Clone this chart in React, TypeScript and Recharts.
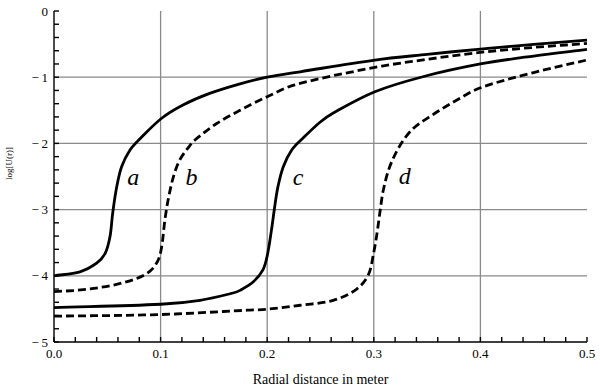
import { LineChart, Line, XAxis, YAxis, ReferenceLine, ReferenceDot } from 'recharts';

document.body.style.margin = '0';

const SERIF = "'Liberation Serif', 'Times New Roman', 'DejaVu Serif', serif";

// curve points: [r, log U(r)]
const curveA: [number, number][] = [
  [0, -4.0], [0.0244, -3.94], [0.04, -3.81], [0.048, -3.66], [0.0525, -3.41],
  [0.055, -3.06], [0.0588, -2.66], [0.0635, -2.35], [0.0713, -2.1], [0.0807, -1.93],
  [0.101, -1.62], [0.121, -1.42], [0.146, -1.245], [0.1745, -1.1], [0.2, -1.0],
  [0.231, -0.918], [0.301, -0.741], [0.35, -0.655], [0.4, -0.575], [0.45, -0.505],
  [0.5, -0.44],
];

const curveB: [number, number][] = [
  [0, -4.24], [0.0275, -4.21], [0.0557, -4.14], [0.0776, -4.04], [0.09, -3.93],
  [0.0975, -3.77], [0.101, -3.56], [0.104, -3.16], [0.107, -2.86], [0.112, -2.505],
  [0.118, -2.25], [0.1276, -2.03], [0.134, -1.925], [0.1526, -1.7], [0.1745, -1.5],
  [0.2, -1.295], [0.226, -1.115], [0.301, -0.852], [0.35, -0.73], [0.4, -0.625],
  [0.45, -0.55], [0.5, -0.49],
];

const curveC: [number, number][] = [
  [0, -4.48], [0.1, -4.43], [0.137, -4.37], [0.168, -4.26], [0.1745, -4.22],
  [0.187, -4.09], [0.196, -3.91], [0.2, -3.7], [0.204, -3.31], [0.207, -2.96],
  [0.21, -2.66], [0.215, -2.355], [0.223, -2.1], [0.233, -1.93], [0.2495, -1.68],
  [0.262, -1.54], [0.301, -1.22], [0.346, -0.993], [0.4, -0.8], [0.45, -0.68],
  [0.5, -0.58],
];

const curveD: [number, number][] = [
  [0, -4.61], [0.1, -4.585], [0.181, -4.52], [0.2, -4.505], [0.231, -4.445],
  [0.262, -4.37], [0.284, -4.2], [0.295, -3.98], [0.2998, -3.66], [0.303, -3.36],
  [0.306, -3.01], [0.309, -2.7], [0.315, -2.35], [0.325, -2.02], [0.337, -1.775],
  [0.356, -1.56], [0.378, -1.345], [0.4, -1.16], [0.45, -0.93], [0.5, -0.74],
];

const curveLabels = [
  { text: 'a', x: 0.0744, y: -2.5 },
  { text: 'b', x: 0.129, y: -2.5 },
  { text: 'c', x: 0.229, y: -2.5 },
  { text: 'd', x: 0.329, y: -2.48 },
];

const xTicks = [
  0, 0.02, 0.04, 0.06, 0.08, 0.1, 0.12, 0.14, 0.16, 0.18, 0.2, 0.22, 0.24,
  0.26, 0.28, 0.3, 0.32, 0.34, 0.36, 0.38, 0.4, 0.42, 0.44, 0.46, 0.48, 0.5,
];
const yTicks = [
  -5, -4.8, -4.6, -4.4, -4.2, -4, -3.8, -3.6, -3.4, -3.2, -3, -2.8, -2.6,
  -2.4, -2.2, -2, -1.8, -1.6, -1.4, -1.2, -1, -0.8, -0.6, -0.4, -0.2, 0,
];
const xGrid = [0.1, 0.2, 0.3, 0.4];
const yGrid = [-1, -2, -3, -4];

const toRows = (pts: [number, number][]) => pts.map(([x, y]) => ({ x, y }));

// smooth curve through the scaled points; tangents follow the neighbours so
// the steep parts bend as cleanly as the flat ones
// eslint-disable-next-line @typescript-eslint/no-explicit-any
const smoothCurve = (context: any) => {
  let pts: [number, number][] = [];
  const unit = (a: [number, number], b: [number, number]) => {
    const dx = b[0] - a[0];
    const dy = b[1] - a[1];
    const len = Math.hypot(dx, dy) || 1;
    return [dx / len, dy / len];
  };
  return {
    areaStart() {},
    areaEnd() {},
    lineStart() {
      pts = [];
    },
    point(x: number, y: number) {
      pts.push([+x, +y]);
    },
    lineEnd() {
      if (!pts.length) return;
      context.moveTo(pts[0][0], pts[0][1]);
      for (let i = 0; i < pts.length - 1; i++) {
        const p0 = pts[Math.max(i - 1, 0)];
        const p1 = pts[i];
        const p2 = pts[i + 1];
        const p3 = pts[Math.min(i + 2, pts.length - 1)];
        const seg = Math.hypot(p2[0] - p1[0], p2[1] - p1[1]) / 3;
        const t1 = unit(p0, p2);
        const t2 = unit(p1, p3);
        context.bezierCurveTo(
          p1[0] + t1[0] * seg,
          p1[1] + t1[1] * seg,
          p2[0] - t2[0] * seg,
          p2[1] - t2[1] * seg,
          p2[0],
          p2[1],
        );
      }
    },
  };
};

// eslint-disable-next-line @typescript-eslint/no-explicit-any
const XTick = (p: any) => {
  const v = p.payload.value as number;
  if (Math.abs(v * 10 - Math.round(v * 10)) > 1e-6) return <g />;
  return (
    <text x={p.x} y={p.y} dy="0.71em" textAnchor="middle" style={{ fontFamily: SERIF, fontSize: 13 }} fill="#000">
      {v.toFixed(1)}
    </text>
  );
};

// eslint-disable-next-line @typescript-eslint/no-explicit-any
const YTick = (p: any) => {
  const v = p.payload.value as number;
  if (Math.abs(v - Math.round(v)) > 1e-6) return <g />;
  const label = v === 0 ? '0' : `\u2212\u2009${Math.abs(v)}`;
  return (
    <text x={p.x} y={p.y} dy="0.36em" textAnchor="end" style={{ fontFamily: SERIF, fontSize: 13 }} fill="#000">
      {label}
    </text>
  );
};

const Empty = () => <g />;

const series = [
  { key: 'a', pts: curveA, dash: undefined },
  { key: 'b', pts: curveB, dash: '8 4' },
  { key: 'c', pts: curveC, dash: undefined },
  { key: 'd', pts: curveD, dash: '8 4' },
];

export default function App() {
  return (
    <div style={{ width: 600, height: 389, background: '#fff', fontFamily: SERIF }}>
      <LineChart width={600} height={389} margin={{ top: 11, right: 13, bottom: 0, left: 0 }}>
        <XAxis
          xAxisId="x"
          dataKey="x"
          type="number"
          domain={[0, 0.5]}
          ticks={xTicks}
          interval={0}
          height={47}
          tickSize={-5}
          tickMargin={12}
          stroke="#000"
          strokeWidth={1.4}
          tick={XTick}
          label={{
            // eslint-disable-next-line @typescript-eslint/no-explicit-any
            content: (p: any) => {
              const vb = p.viewBox;
              return (
                <text
                  x={vb.x + vb.width / 2}
                  y={vb.y + vb.height - 5}
                  textAnchor="middle"
                  style={{ fontFamily: SERIF, fontSize: 14 }}
                  fill="#000"
                >
                  Radial distance in meter
                </text>
              );
            },
          }}
        />
        <XAxis
          xAxisId="top"
          orientation="top"
          dataKey="x"
          type="number"
          domain={[0, 0.5]}
          ticks={xTicks}
          interval={0}
          height={0}
          tickSize={-5}
          stroke="#000"
          strokeWidth={1.4}
          tick={Empty}
        />
        <YAxis
          yAxisId="y"
          type="number"
          domain={[-5, 0]}
          ticks={yTicks}
          interval={0}
          width={54}
          tickSize={-5}
          tickMargin={11}
          stroke="#000"
          strokeWidth={1.4}
          tick={YTick}
          label={{
            // eslint-disable-next-line @typescript-eslint/no-explicit-any
            content: (p: any) => {
              const vb = p.viewBox;
              const cx = vb.x + 9;
              const cy = vb.y + vb.height / 2 - 13;
              return (
                <text
                  x={cx}
                  y={cy}
                  transform={`rotate(-90, ${cx}, ${cy})`}
                  textAnchor="middle"
                  dy="0.35em"
                  style={{ fontFamily: SERIF, fontSize: 9 }}
                  fill="#000"
                >
                  log[U(r)]
                </text>
              );
            },
          }}
        />
        <YAxis
          yAxisId="right"
          orientation="right"
          type="number"
          domain={[-5, 0]}
          ticks={yTicks}
          interval={0}
          width={0}
          tickSize={-5}
          stroke="#000"
          strokeWidth={1.4}
          tick={Empty}
        />
        {xGrid.map((v) => (
          <ReferenceLine key={`gx${v}`} xAxisId="x" yAxisId="y" x={v} stroke="#8a8a8a" strokeWidth={1.3} />
        ))}
        {yGrid.map((v) => (
          <ReferenceLine key={`gy${v}`} xAxisId="x" yAxisId="y" y={v} stroke="#8a8a8a" strokeWidth={1.3} />
        ))}
        {series.map((s) => (
          <Line
            key={s.key}
            xAxisId="x"
            yAxisId="y"
            data={toRows(s.pts)}
            dataKey="y"
            // eslint-disable-next-line @typescript-eslint/no-explicit-any
            type={smoothCurve as any}
            stroke="#000"
            strokeWidth={2.8}
            strokeDasharray={s.dash}
            dot={false}
            activeDot={false}
            isAnimationActive={false}
          />
        ))}
        {curveLabels.map((l) => (
          <ReferenceDot
            key={l.text}
            xAxisId="x"
            yAxisId="y"
            x={l.x}
            y={l.y}
            r={0}
            fill="none"
            stroke="none"
            label={{
              // eslint-disable-next-line @typescript-eslint/no-explicit-any
              content: (p: any) => (
                <text
                  x={p.viewBox.x + (p.viewBox.width || 0) / 2}
                  y={p.viewBox.y + (p.viewBox.height || 0) / 2}
                  dy="0.35em"
                  textAnchor="middle"
                  style={{ fontFamily: SERIF, fontStyle: 'italic', fontSize: 24 }}
                  fill="#000"
                >
                  {l.text}
                </text>
              ),
            }}
          />
        ))}
      </LineChart>
    </div>
  );
}
